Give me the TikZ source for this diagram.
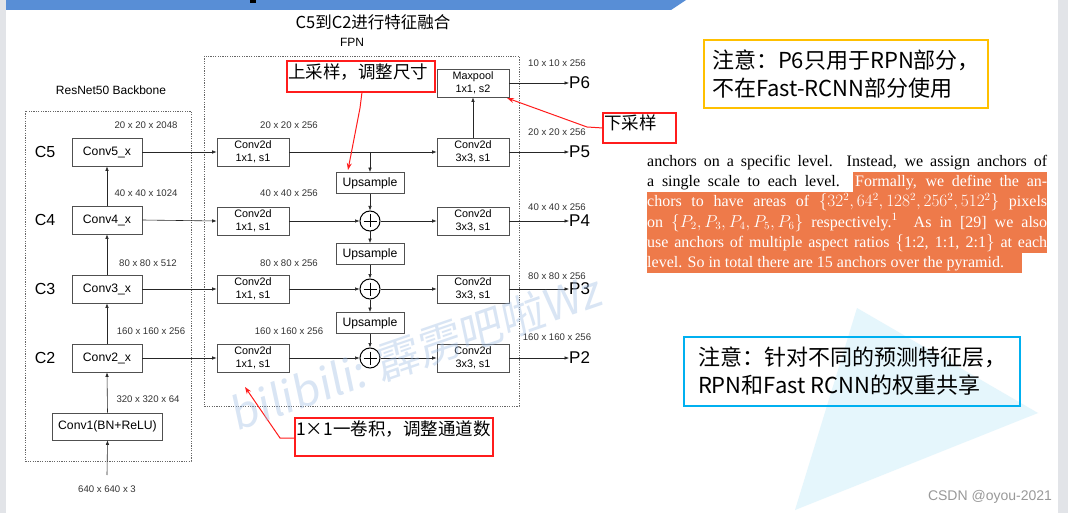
\documentclass[tikz,border=0pt]{standalone}
\usepackage{fontspec}
\setmainfont{Liberation Sans}
\newfontfamily\cjk{Noto Sans CJK SC}
\newfontfamily\paperfont{Liberation Serif}
\newfontfamily\wmfont[FakeSlant=0.12]{Noto Sans CJK SC}
\usetikzlibrary{arrows.meta}
\definecolor{banner}{RGB}{88,142,214}
\definecolor{stripgray}{RGB}{226,228,232}
\definecolor{boxgray}{RGB}{80,80,80}
\definecolor{callred}{RGB}{255,28,28}
\definecolor{noteyellow}{RGB}{255,192,0}
\definecolor{noteblue}{RGB}{0,176,240}
\definecolor{tri}{RGB}{229,246,252}
\definecolor{hilite}{RGB}{238,122,74}
\definecolor{wm}{RGB}{160,190,228}
\tikzset{
  arr/.style={draw=black!85, line width=0.6pt, -{Latex[length=4.5pt,width=3.5pt]}},
  redarr/.style={draw=callred, line width=1pt, -{Stealth[length=7pt,width=5pt]}},
  bbbox/.style={draw=boxgray, line width=0.7pt, fill=white, minimum width=70pt, minimum height=28pt, inner sep=0pt, font=\fontsize{12.2}{14}\selectfont},
  fpnbox/.style={draw=boxgray, line width=0.7pt, fill=white, minimum width=72pt, minimum height=28pt, inner sep=0pt, align=center, font=\fontsize{10.8}{12.5}\selectfont},
  upbox/.style={draw=boxgray, line width=0.7pt, fill=white, minimum width=68pt, minimum height=21pt, inner sep=0pt, font=\fontsize{12.2}{14}\selectfont},
  plusnode/.style={circle, draw=black, line width=1pt, minimum size=20pt, inner sep=0pt},
  dimlab/.style={font=\fontsize{9.6}{11}\selectfont, text=black!80, inner sep=0pt},
  clab/.style={font=\fontsize{16}{18}\selectfont, inner sep=0pt},
  plab/.style={font=\fontsize{17}{19}\selectfont, inner sep=0pt, anchor=west},
  dashbox/.style={draw=black!60, line width=0.6pt, dash pattern=on 1.2pt off 1.2pt},
  redbox/.style={draw=callred, line width=1.5pt},
  redtxt/.style={font=\cjk\fontsize{17.5}{20}\selectfont, inner sep=0pt, anchor=west},
  notebox/.style={line width=2.2pt, align=left, inner sep=0pt, font=\cjk\fontsize{22}{28}\selectfont},
}
\begin{document}
\begin{tikzpicture}[x=1pt,y=-1pt]
\useasboundingbox (0,0) rectangle (1068,513);
\fill[white] (0,0) rectangle (1068,513);
% frame strips and banner
\fill[stripgray] (0,0) rectangle (6,513);
\fill[stripgray] (1058,0) rectangle (1068,513);
\fill[banner] (6,0) -- (686,0) -- (671,10) -- (6,10) -- cycle;
\fill[black] (250,0) rectangle (256,3);
% background triangle
\fill[tri] (857,308) -- (1038,413) -- (795,510) -- cycle;

% titles
\node[font=\cjk\fontsize{16.5}{18}\selectfont] (title) at (373,22) {C5到C2进行特征融合};
\node[font=\fontsize{12}{14}\selectfont] (fpnlab) at (352,42) {FPN};
\node[font=\fontsize{12}{14}\selectfont] (bblab) at (111,90) {ResNet50 Backbone};

% dashed frames
\draw[dashbox] (25,111) rectangle (191,461);
\draw[dashbox] (204,56) rectangle (519,406);

% backbone
\node[bbbox] (c5) at (107,152) {Conv5\_x};
\node[bbbox] (c4) at (107,220) {Conv4\_x};
\node[bbbox] (c3) at (107,289) {Conv3\_x};
\node[bbbox] (c2) at (107,358) {Conv2\_x};
\node[bbbox, minimum width=110pt, minimum height=27pt] (conv1) at (107.5,426.5) {Conv1(BN+ReLU)};
\coordinate (inp) at (107,475);
\node[dimlab] (inlab) at (107,489) {640 x 640 x 3};
\node[clab] (lc5) at (45,152) {C5};
\node[clab] (lc4) at (45,220) {C4};
\node[clab] (lc3) at (45,289) {C3};
\node[clab] (lc2) at (45,358) {C2};
\node[dimlab] at (146,125) {20 x 20 x 2048};
\node[dimlab] at (146,193) {40 x 40 x 1024};
\node[dimlab] at (148,263) {80 x 80 x 512};
\node[dimlab] at (151,331) {160 x 160 x 256};
\node[dimlab] at (148,399) {320 x 320 x 64};
\draw[arr] (inp) -- (conv1.south);
\draw[arr] (conv1.north) -- (c2.south);
\draw[arr] (c2.north) -- (c3.south);
\draw[arr] (c3.north) -- (c4.south);
\draw[arr] (c4.north) -- (c5.south);

% FPN lateral
\node[fpnbox] (l5) at (253,152) {Conv2d\\1x1, s1};
\node[fpnbox] (l4) at (253,221) {Conv2d\\1x1, s1};
\node[fpnbox] (l3) at (253,289) {Conv2d\\1x1, s1};
\node[fpnbox] (l2) at (253,358) {Conv2d\\1x1, s1};
\node[fpnbox] (o5) at (473,152) {Conv2d\\3x3, s1};
\node[fpnbox] (o4) at (473,221) {Conv2d\\3x3, s1};
\node[fpnbox] (o3) at (473,289) {Conv2d\\3x3, s1};
\node[fpnbox] (o2) at (473,358) {Conv2d\\3x3, s1};
\node[fpnbox] (mp) at (473,83) {Maxpool\\1x1, s2};
\node[upbox] (u1) at (370,183) {Upsample};
\node[upbox] (u2) at (370,254) {Upsample};
\node[upbox] (u3) at (370,323) {Upsample};
\node[plusnode] (p4) at (370,221) {};
\node[plusnode] (p3) at (370,289) {};
\node[plusnode] (p2) at (370,358) {};
\foreach \p in {p4,p3,p2}{
  \draw[line width=0.9pt] (\p.center) ++(-6.5,0) -- ++(13,0);
  \draw[line width=0.9pt] (\p.center) ++(0,-6.5) -- ++(0,13);
}
\node[dimlab] at (289,125) {20 x 20 x 256};
\node[dimlab] at (289,193) {40 x 40 x 256};
\node[dimlab] at (289,263) {80 x 80 x 256};
\node[dimlab] at (289,331) {160 x 160 x 256};
\node[dimlab] at (557,63) {10 x 10 x 256};
\node[dimlab] at (557,132) {20 x 20 x 256};
\node[dimlab] at (557,207) {40 x 40 x 256};
\node[dimlab] at (557,276) {80 x 80 x 256};
\node[dimlab] at (557,337) {160 x 160 x 256};
\node[plab] (P6) at (569,83) {P6};
\node[plab] (P5) at (569,152) {P5};
\node[plab] (P4) at (569,221) {P4};
\node[plab] (P3) at (569,289) {P3};
\node[plab] (P2) at (569,358) {P2};

\draw[arr] (c5.east) -- (l5.west);
\draw[arr] (c4.east) -- (l4.west);
\draw[arr] (c3.east) -- (l3.west);
\draw[arr] (c2.east) -- (l2.west);
\draw[arr] (l5.east) -- (o5.west);
\coordinate (j5) at (370,152);
\draw[arr] (j5) -- (u1.north);
\draw[arr] (u1.south) -- (p4.north);
\draw[arr] (l4.east) -- (p4.west);
\draw[arr] (p4.east) -- (o4.west);
\draw[arr] (p4.south) -- (u2.north);
\draw[arr] (u2.south) -- (p3.north);
\draw[arr] (l3.east) -- (p3.west);
\draw[arr] (p3.east) -- (o3.west);
\draw[arr] (p3.south) -- (u3.north);
\draw[arr] (u3.south) -- (p2.north);
\draw[arr] (l2.east) -- (p2.west);
\draw[arr] (p2.east) -- (o2.west);
\draw[arr] (o5.north) -- (mp.south);
\draw[arr] (mp.east) -- (P6.west);
\draw[arr] (o5.east) -- (P5.west);
\draw[arr] (o4.east) -- (P4.west);
\draw[arr] (o3.east) -- (P3.west);
\draw[arr] (o2.east) -- (P2.west);

% red callouts
\draw[redbox] (287,61) rectangle (435,92);
\node[redtxt] (uptxt) at (288,72) {上采样，调整尺寸};
\coordinate (upa) at (362,92);
\coordinate (upb) at (360,108);
\coordinate (upc) at (348,170);
\draw[redarr] (upa) -- (upb) -- (upc);

\draw[redbox] (603,113) rectangle (676,143);
\node[redtxt] (dntxt) at (604,123) {下采样};
\coordinate (dna) at (603,128);
\coordinate (dnb) at (587,127);
\coordinate (dnc) at (507,98);
\draw[redarr] (dna) -- (dnb) -- (dnc);

\draw[redbox] (295,418) rectangle (493,456);
\node[redtxt] (cvtxt) at (296,429) {1×1一卷积，调整通道数};
\coordinate (cva) at (295,438);
\coordinate (cvb) at (280,438);
\coordinate (cvc) at (245,387);
\draw[redarr] (cva) -- (cvb) -- (cvc);

% notes
\node[notebox, draw=noteyellow, minimum width=284pt, minimum height=68pt] (note1) at (846,74) {注意：P6只用于RPN部分，\\不在Fast-RCNN部分使用};
\node[notebox, draw=noteblue, minimum width=336pt, minimum height=69pt] (note2) at (852,371.5) {注意：针对不同的预测特征层，\\RPN和Fast RCNN的权重共享};

% paper excerpt
\fill[hilite] (853,172) rectangle (1047,192.5);
\fill[hilite] (647,192.5) rectangle (1047,253);
\fill[hilite] (647,253) rectangle (1022,273);
\node[anchor=north west, text width=400pt, inner sep=0pt, align=justify,
      font=\paperfont\fontsize{16}{20.2}\selectfont, text=black] (paper) at (647,155)
{anchors on a specific level.\ \ Instead, we assign anchors of\linebreak
a single scale to each level.\ \ {\color{white}Formally, we define the an-\linebreak
chors to have areas of $\{32^2,64^2,128^2,256^2,512^2\}$ pixels\linebreak
on $\{P_2,P_3,P_4,P_5,P_6\}$ respectively.\textsuperscript{1}\ \ As in [29] we also\linebreak
use anchors of multiple aspect ratios $\{$1:2, 1:1, 2:1$\}$ at each\linebreak
level. So in total there are 15 anchors over the pyramid.}};

\node[font=\fontsize{14}{16}\selectfont, text=black!40] (csdn) at (990,497) {CSDN @oyou-2021};

% watermark
\node[rotate=19, text=wm, opacity=0.4, font=\wmfont\fontsize{44}{48}\selectfont, inner sep=0pt] (wmark) at (415,352) {bilibili: 霹雳吧啦Wz};
\end{tikzpicture}
\end{document}
